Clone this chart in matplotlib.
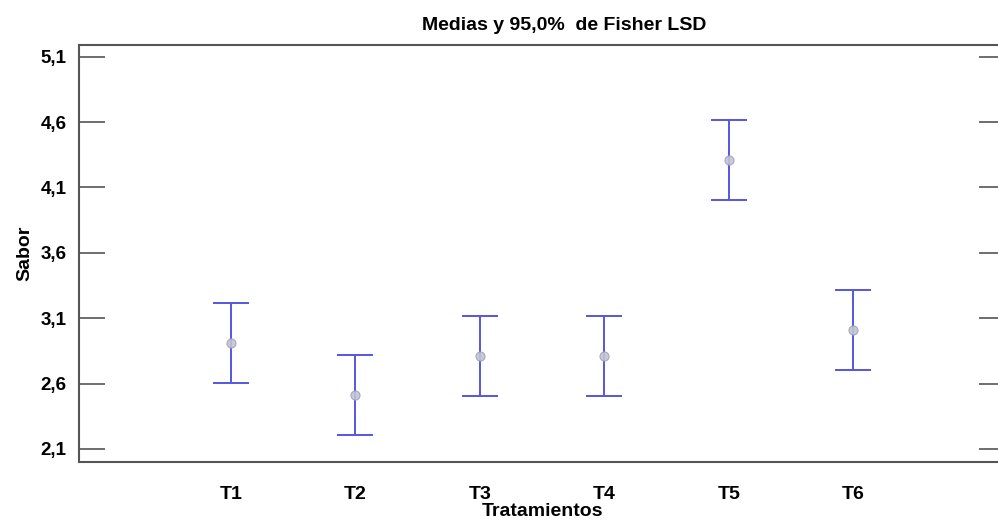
import numpy as np
import matplotlib
matplotlib.use('Agg')
import matplotlib.pyplot as plt
from matplotlib.ticker import FuncFormatter

# medias y semiamplitud del intervalo LSD
tratamientos = ['T1', 'T2', 'T3', 'T4', 'T5', 'T6']
medias = [2.91, 2.51, 2.81, 2.81, 4.31, 3.01]
lsd = [0.305, 0.305, 0.305, 0.305, 0.305, 0.305]
yticks = [2.1, 2.6, 3.1, 3.6, 4.1, 4.6, 5.1]

plt.rcParams['font.family'] = ['Liberation Sans', 'DejaVu Sans']
plt.rcParams['font.weight'] = 'bold'

fig = plt.figure(figsize=(9.98, 5.23), dpi=100)
ax = fig.add_axes([79 / 998, 1 - 462 / 523, (1005 - 79) / 998, (462 - 45) / 523])

x = np.arange(1, len(tratamientos) + 1)
ax.errorbar(x, medias, yerr=lsd, fmt='none', ecolor='#5656e0',
            elinewidth=1.4, capsize=13, capthick=1.4)
ax.plot(x, medias, 'o', ms=6.5, mfc='#c4c4d4', mec='#a0a0bc', mew=0.8, alpha=0.9)

ax.set_xlim(-0.22, 7.22)
ax.set_ylim(2.0, 5.19)
ax.set_xticks(x)
ax.set_xticklabels(tratamientos)
ax.set_yticks(yticks)
ax.yaxis.set_major_formatter(FuncFormatter(lambda v, p: ('%.1f' % v).replace('.', ',')))

ax.spines['right'].set_visible(False)
for s in ['left', 'bottom', 'top']:
    ax.spines[s].set_color('#555555')
    ax.spines[s].set_linewidth(1.5)

ax.tick_params(axis='y', direction='in', length=19, width=1.2, color='#555555',
               left=True, right=True, labelsize=13.5, pad=9)
ax.tick_params(axis='x', length=0, labelsize=14, pad=17)

ax.set_title('Medias y 95,0%  de Fisher LSD', fontsize=14, fontweight='bold', pad=11,
             x=(564 - 79) / (1005 - 79))
ax.set_ylabel('Sabor', fontsize=14, fontweight='bold', labelpad=5)
ax.set_xlabel('Tratamientos', fontsize=14, fontweight='bold', labelpad=0)

fig.savefig('out.png', dpi=100)
